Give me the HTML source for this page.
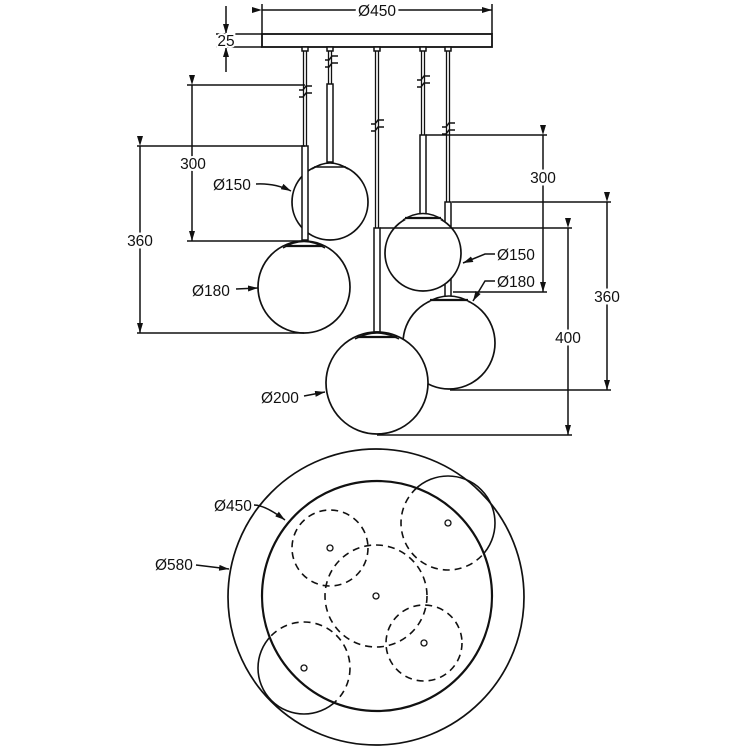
<!DOCTYPE html>
<html><head><meta charset="utf-8"><style>
html,body{margin:0;padding:0;background:#fff;}
svg{display:block;}
text{font-family:"Liberation Sans",sans-serif;font-size:15.5px;fill:#111;}
</style></head><body>
<svg width="750" height="750" viewBox="0 0 750 750" xmlns="http://www.w3.org/2000/svg">
<defs>
<marker id="ar" markerWidth="10" markerHeight="6" refX="10" refY="3" orient="auto" markerUnits="userSpaceOnUse"><path d="M0,0 L10,3 L0,6 Z" fill="#111"/></marker>
<clipPath id="inIn"><circle cx="377" cy="596" r="115"/></clipPath>
<mask id="outIn"><rect width="750" height="750" fill="#fff"/><circle cx="377" cy="596" r="115" fill="#000"/></mask>
</defs>
<g stroke="#111" fill="none" stroke-width="1.5">
<line x1="262" y1="10" x2="492" y2="10" marker-start="url(#ar)" marker-end="url(#ar)"/>
<line x1="262" y1="4" x2="262" y2="34"/><line x1="492" y1="4" x2="492" y2="34"/>
<line x1="226" y1="6" x2="226" y2="34" marker-end="url(#ar)"/>
<line x1="226" y1="72" x2="226" y2="47" marker-end="url(#ar)"/>
<line x1="216" y1="34" x2="262" y2="34"/><line x1="216" y1="47" x2="262" y2="47"/>
<rect x="262" y="34" width="230" height="13" stroke-width="1.8"/>
<g fill="#fff"><rect x="302" y="47" width="6" height="4"/><rect x="327" y="47" width="6" height="4"/><rect x="374" y="47" width="6" height="4"/><rect x="420" y="47" width="6" height="4"/><rect x="445" y="47" width="6" height="4"/></g>
<g stroke-width="1.3">
<line x1="303.5" y1="51" x2="303.5" y2="146"/><line x1="306.5" y1="51" x2="306.5" y2="146"/>
<line x1="328.5" y1="51" x2="328.5" y2="84"/><line x1="331.5" y1="51" x2="331.5" y2="84"/>
<line x1="375.5" y1="51" x2="375.5" y2="228"/><line x1="378.5" y1="51" x2="378.5" y2="228"/>
<line x1="421.5" y1="51" x2="421.5" y2="135"/><line x1="424.5" y1="51" x2="424.5" y2="135"/>
<line x1="446.5" y1="51" x2="446.5" y2="202"/><line x1="449.5" y1="51" x2="449.5" y2="202"/>
</g>
<g stroke-width="1.5">
<path d="M299,90 h4 l3,-4 h6 M299,97 h4 l3,-4 h6"/>
<path d="M325,60 h4 l3,-4 h6 M325,67 h4 l3,-4 h6"/>
<path d="M371,124 h4 l3,-4 h6 M371,131 h4 l3,-4 h6"/>
<path d="M417,80 h4 l3,-4 h6 M417,87 h4 l3,-4 h6"/>
<path d="M442,127 h4 l3,-4 h6 M442,134 h4 l3,-4 h6"/>
</g>
<rect x="327" y="84" width="6" height="78" fill="#fff"/>
<circle cx="330" cy="202" r="38" fill="#fff" stroke-width="1.7"/>
<path d="M312,169 Q330,157 348,169" fill="#fff"/><line x1="314" y1="167" x2="346" y2="167"/>
<rect x="302" y="146" width="6" height="94" fill="#fff"/>
<circle cx="304" cy="287" r="46" fill="#fff" stroke-width="1.7"/>
<path d="M283,248 Q304,235 325,248" fill="#fff"/><line x1="285" y1="246" x2="323" y2="246" stroke-width="2.2"/>
<rect x="445" y="202" width="6" height="95" fill="#fff"/>
<rect x="420" y="135" width="6" height="80" fill="#fff"/>
<circle cx="423" cy="253" r="38" fill="#fff" stroke-width="1.7"/>
<path d="M403,220 Q423,207 443,220" fill="#fff"/><line x1="405" y1="218" x2="441" y2="218" stroke-width="2.2"/>
<circle cx="449" cy="343" r="46" fill="#fff" stroke-width="1.7"/>
<path d="M428,302 Q449,290 470,302" fill="#fff"/><line x1="430" y1="300" x2="468" y2="300" stroke-width="2.2"/>
<rect x="374" y="228" width="6" height="104" fill="#fff"/>
<circle cx="377" cy="383" r="51" fill="#fff" stroke-width="1.7"/>
<path d="M355,339 Q377,327 399,339" fill="#fff"/><line x1="357" y1="337" x2="397" y2="337" stroke-width="2.2"/>
<line x1="137" y1="146" x2="305" y2="146"/><line x1="137" y1="333" x2="304" y2="333"/>
<line x1="140" y1="146" x2="140" y2="333" marker-start="url(#ar)" marker-end="url(#ar)"/>
<line x1="187" y1="85" x2="305" y2="85"/><line x1="187" y1="241" x2="305" y2="241"/>
<line x1="192" y1="85" x2="192" y2="241" marker-start="url(#ar)" marker-end="url(#ar)"/>
<line x1="426" y1="135" x2="547" y2="135"/><line x1="453" y1="292" x2="547" y2="292"/>
<line x1="543" y1="135" x2="543" y2="292" marker-start="url(#ar)" marker-end="url(#ar)"/>
<line x1="452" y1="202" x2="611" y2="202"/><line x1="450" y1="390" x2="611" y2="390"/>
<line x1="607" y1="202" x2="607" y2="390" marker-start="url(#ar)" marker-end="url(#ar)"/>
<line x1="380" y1="228" x2="572" y2="228"/><line x1="377" y1="435" x2="572" y2="435"/>
<line x1="568" y1="228" x2="568" y2="435" marker-start="url(#ar)" marker-end="url(#ar)"/>
<path d="M256,184 Q275,183 291,191" marker-end="url(#ar)"/>
<line x1="236" y1="289" x2="258" y2="288" marker-end="url(#ar)"/>
<line x1="304" y1="396" x2="325" y2="392" marker-end="url(#ar)"/>
<path d="M495,254 L485,254 L463,263" marker-end="url(#ar)"/>
<path d="M495,281 L485,281 L473,301" marker-end="url(#ar)"/>
<circle cx="376" cy="597" r="148" stroke-width="1.7"/>
<circle cx="377" cy="596" r="115" stroke-width="2.2"/>
<g stroke-dasharray="7,5" stroke-width="1.6">
<circle cx="376" cy="596" r="51"/>
<circle cx="330" cy="548" r="38"/>
<circle cx="424" cy="643" r="38"/>
<g clip-path="url(#inIn)"><circle cx="448" cy="523" r="47"/><circle cx="304" cy="668" r="46"/></g>
</g>
<g mask="url(#outIn)" stroke-width="1.6"><circle cx="448" cy="523" r="47"/><circle cx="304" cy="668" r="46"/></g>
<g stroke-width="1.3"><circle cx="330" cy="548" r="3"/><circle cx="376" cy="596" r="3"/><circle cx="448" cy="523" r="3"/><circle cx="424" cy="643" r="3"/><circle cx="304" cy="668" r="3"/></g>
<path d="M254,505 Q265,505 285,520" marker-end="url(#ar)"/>
<line x1="196" y1="565" x2="229" y2="569" marker-end="url(#ar)"/>
</g>
<g>
<text x="377" y="16" text-anchor="middle" style="paint-order:stroke" stroke="#fff" stroke-width="6">Ø450</text>
<text x="226" y="46" text-anchor="middle" style="paint-order:stroke" stroke="#fff" stroke-width="4">25</text>
<text x="193" y="169" text-anchor="middle" style="paint-order:stroke" stroke="#fff" stroke-width="4">300</text>
<text x="140" y="246" text-anchor="middle" style="paint-order:stroke" stroke="#fff" stroke-width="5">360</text>
<text x="213" y="190">Ø150</text>
<text x="192" y="296">Ø180</text>
<text x="261" y="403">Ø200</text>
<text x="543" y="183" text-anchor="middle" style="paint-order:stroke" stroke="#fff" stroke-width="5">300</text>
<text x="607" y="302" text-anchor="middle" style="paint-order:stroke" stroke="#fff" stroke-width="5">360</text>
<text x="568" y="343" text-anchor="middle" style="paint-order:stroke" stroke="#fff" stroke-width="5">400</text>
<text x="497" y="260">Ø150</text>
<text x="497" y="287">Ø180</text>
<text x="214" y="511">Ø450</text>
<text x="155" y="570">Ø580</text>
</g>
</svg>
</body></html>
